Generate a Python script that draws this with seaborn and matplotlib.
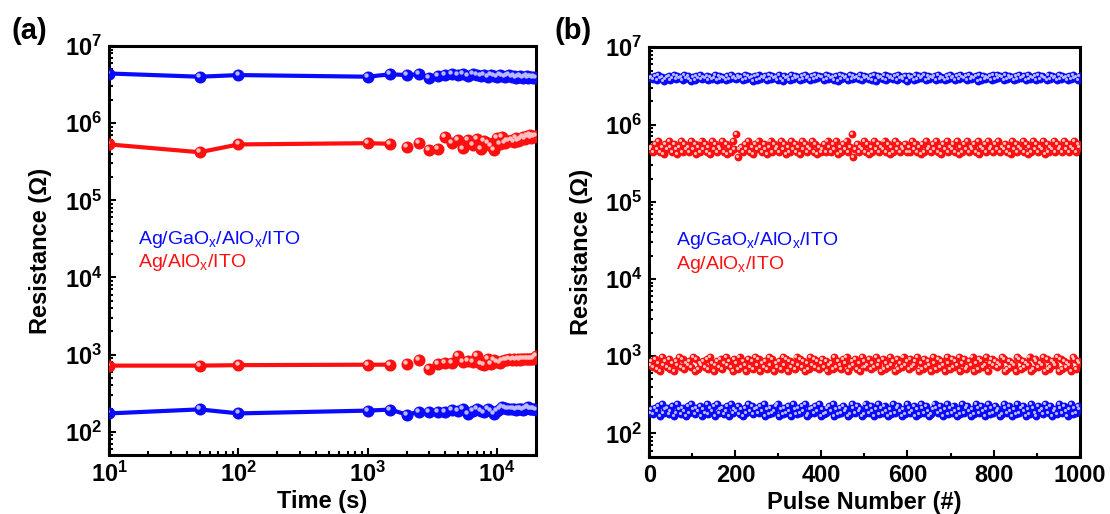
import numpy as np
import pandas as pd
import matplotlib
matplotlib.use("Agg")
import matplotlib.pyplot as plt
from matplotlib import ticker, transforms
import seaborn as sns

# ---------------- data: panel (a) retention ----------------
time_s = [10, 50, 100] + list(range(1000, 20001, 500))

blue_hrs_a = [4.4e6, 4.0e6, 4.2e6, 4.0e6, 4.3e6, 4.2e6, 4.3e6, 3.9e6, 4.1e6, 4.2e6,
              4.3e6, 4.2e6, 4.4e6, 4.1e6, 4.3e6, 4.2e6, 4.1e6, 4.2e6, 4.0e6, 4.2e6,
              4.1e6, 4.0e6, 4.2e6, 4.1e6, 4.0e6, 4.1e6, 4.2e6, 4.0e6, 4.1e6, 3.9e6,
              4.0e6, 4.1e6, 4.0e6, 3.9e6, 4.0e6, 4.1e6, 3.9e6, 4.0e6, 4.0e6, 3.9e6,
              4.0e6, 3.9e6]
red_hrs_a = [5.3e5, 4.2e5, 5.3e5,
             5.5e5, 5.4e5, 4.9e5, 5.6e5, 4.5e5, 4.6e5, 6.6e5, 5.5e5, 6.0e5, 4.7e5,
             6.1e5, 5.2e5, 6.2e5, 4.6e5, 5.8e5, 5.6e5, 5.1e5, 4.5e5, 6.4e5, 5.3e5,
             6.7e5, 5.6e5, 5.9e5, 5.8e5, 6.0e5, 5.7e5, 6.5e5, 5.9e5, 6.1e5, 6.2e5,
             6.6e5, 6.3e5, 6.8e5, 6.6e5, 7.0e5, 6.5e5, 6.9e5, 6.7e5, 6.9e5]
red_lrs_a = [720, 720, 730,
             740, 740, 760, 860, 650, 760, 770, 770, 960, 800, 820, 800, 950,
             760, 740, 880, 760, 850, 800, 780, 820, 860, 860, 870, 860, 870,
             860, 870, 860, 870, 870, 880, 880, 880, 880, 890, 880, 900, 950]
blue_lrs_a = [173, 195, 173,
              188, 194, 167, 181, 182, 181, 182, 194, 188, 197, 168, 188, 200,
              188, 178, 200, 188, 170, 185, 200, 210, 204, 195, 197, 195, 196,
              194, 195, 196, 195, 194, 196, 205, 208, 200, 198, 200, 196, 193]

# ---------------- data: panel (b) endurance ----------------
# each digit is a read-off level (0..9) inside the band [lo, hi] (log spaced)
blue_hrs_b_digits = ("4536274513 5624736452 7463152647 3546253472 6354263745"
                     "3645273645 1627354627 3645273164 5273645263 7452637465"
                     "5273645261 7364527364 5372645362 7164537264 5362745361"
                     "6452736457 2635462735 4263745263 7546273546 1726354627"
                     "3746527364 5263745627 3546273654 2736452736 4526374526")
red_hrs_b_digits = ("3425362415 3642531462 5342635142 6352416352 4362514263"
                    "9034253624 1536425314 6253426351 4263524163 5243625142"
                    "3526425361 4253624903 5243625142 6352436251 4263524352"
                    "4263524152 6342536241 5362435261 4253624352 6143526342"
                    "5362435241 6352436251 4263524361 5243625342 6352436254")
red_lrs_b_digits = ("4637251846 3725164837 2546381725 4637285146 3725846317"
                    "5283641736 2847153628 4715362847 1635284736 1528473625"
                    "7361452836 4275813647 2518634725 3846172538 4617253846"
                    "2734681527 3641852736 4185273648 1572364815 2763481574"
                    "6354871263 5418726354 8127635481 7236548172 6354187265")
blue_lrs_b_digits = ("3526471835 6247138526 4173852647 1538264718 3562471835"
                     "4725163847 2563748152 6347815263 7418526374 8125637481"
                     "5236748152 6374512863 7451286374 1582637415 2836741528"
                     "6347152863 7412586374 1582637415 2836741528 6374158263"
                     "7451286374 1528367415 2863174528 6371452863 7415826375")
band_blue_hrs_b = (3.6e6, 4.6e6)
band_red_hrs_b = (3.8e5, 7.6e5)
band_red_lrs_b = (600, 1050)
band_blue_lrs_b = (160, 250)

label_blue = r"Ag/GaO$_\mathregular{x}$/AlO$_\mathregular{x}$/ITO"
label_red = r"Ag/AlO$_\mathregular{x}$/ITO"

BLUE = "#0a0aff"
RED = "#ff1010"
BLUE_HI = "#b8b8ff"
RED_HI = "#ffc0c0"


def decode(digits, band):
    d = np.array([int(c) for c in digits if c.isdigit()], dtype=float)
    lo, hi = band
    return lo * (hi / lo) ** (d / 9.0)


# ---------------- style ----------------
sns.set_theme(style="white")
plt.rcParams["font.family"] = ["Liberation Sans", "DejaVu Sans"]
plt.rcParams["mathtext.fontset"] = "custom"
plt.rcParams["mathtext.rm"] = "Liberation Sans"
plt.rcParams["mathtext.bf"] = "Liberation Sans:bold"
plt.rcParams["mathtext.it"] = "Liberation Sans:italic"
for k in ("text.color", "axes.labelcolor", "xtick.color", "ytick.color", "axes.edgecolor"):
    plt.rcParams[k] = "black"

fig = plt.figure(figsize=(11.10, 5.14), dpi=100)
ax_a = fig.add_axes([0.0985, 0.1148, 0.3841, 0.7957])
ax_b = fig.add_axes([0.5850, 0.1115, 0.3876, 0.7965])


def spheres(ax, x, y, color, hi, s, hs, dx=-1.0, dy=1.0):
    df = pd.DataFrame({"x": x, "y": y})
    sns.scatterplot(data=df, x="x", y="y", ax=ax, s=s, color=color,
                    linewidth=0, zorder=3, legend=False)
    off = transforms.offset_copy(ax.transData, fig=fig, x=dx, y=dy, units="points")
    sns.scatterplot(data=df, x="x", y="y", ax=ax, s=hs, color=hi,
                    linewidth=0, zorder=4, legend=False, transform=off)


def line(ax, x, y, color, lw):
    df = pd.DataFrame({"x": x, "y": y})
    sns.lineplot(data=df, x="x", y="y", ax=ax, color=color, lw=lw,
                 estimator=None, sort=False, zorder=2, legend=False)


# ---- panel (a)
line(ax_a, time_s, blue_hrs_a, BLUE, 3.0)
line(ax_a, time_s, blue_lrs_a, BLUE, 3.0)
line(ax_a, time_s[:5], red_hrs_a[:5], RED, 3.0)
line(ax_a, time_s[:5], red_lrs_a[:5], RED, 3.0)
for ys, c, h in [(blue_hrs_a, BLUE, BLUE_HI), (blue_lrs_a, BLUE, BLUE_HI),
                 (red_hrs_a, RED, RED_HI), (red_lrs_a, RED, RED_HI)]:
    spheres(ax_a, time_s, ys, c, h, 75, 10, -1.4, 1.4)

ax_a.set_xscale("log")
ax_a.set_yscale("log")
ax_a.set_xlim(10, 2e4)
ax_a.set_ylim(50, 1e7)

# ---- panel (b)
for digits, band, c, h in [(blue_hrs_b_digits, band_blue_hrs_b, BLUE, BLUE_HI),
                           (red_hrs_b_digits, band_red_hrs_b, RED, RED_HI),
                           (red_lrs_b_digits, band_red_lrs_b, RED, RED_HI),
                           (blue_lrs_b_digits, band_blue_lrs_b, BLUE, BLUE_HI)]:
    vals = decode(digits, band)
    pulses = np.linspace(1, 1000, len(vals))
    spheres(ax_b, pulses, vals, c, h, 32, 5, -0.8, 0.8)

ax_b.set_yscale("log")
ax_b.set_xlim(0, 1000)
ax_b.set_ylim(50, 1e7)
ax_b.xaxis.set_major_locator(ticker.MultipleLocator(200))
ax_b.xaxis.set_minor_locator(ticker.MultipleLocator(100))

# ---- common axis styling
def logfmt(v, pos):
    e = int(round(np.log10(v)))
    return r"$\mathbf{10^{%d}}$" % e

for ax in (ax_a, ax_b):
    for sp in ax.spines.values():
        sp.set_visible(True)
        sp.set_linewidth(2.2)
        sp.set_color("black")
    ax.tick_params(which="both", direction="in", top=False, right=False,
                   left=True, bottom=True, colors="black", width=1.5)
    ax.tick_params(which="major", length=5, labelsize=17, pad=5)
    ax.tick_params(which="minor", length=3)
    ax.yaxis.set_major_locator(ticker.LogLocator(base=10, numticks=12))
    ax.yaxis.set_minor_locator(ticker.LogLocator(base=10, subs=np.arange(2, 10), numticks=12))
    ax.yaxis.set_minor_formatter(ticker.NullFormatter())
    ax.yaxis.set_major_formatter(ticker.FuncFormatter(logfmt))
    ax.set_ylabel("Resistance (\u03a9)", fontsize=17, fontweight="bold", color="black")
    for lab in ax.get_xticklabels() + ax.get_yticklabels():
        lab.set_fontweight("bold")

ax_a.xaxis.set_major_locator(ticker.LogLocator(base=10, numticks=12))
ax_a.xaxis.set_minor_locator(ticker.LogLocator(base=10, subs=np.arange(2, 10), numticks=12))
ax_a.xaxis.set_minor_formatter(ticker.NullFormatter())
ax_a.xaxis.set_major_formatter(ticker.FuncFormatter(logfmt))
ax_b.xaxis.set_major_formatter(ticker.FuncFormatter(lambda v, p: "%d" % v))
for lab in ax_b.get_xticklabels():
    lab.set_fontweight("bold")

ax_a.set_xlabel("Time (s)", fontsize=17, fontweight="bold", color="black")
ax_b.set_xlabel("Pulse Number (#)", fontsize=17, fontweight="bold", color="black")
ax_a.xaxis.set_label_coords(0.5, -0.085)
ax_b.xaxis.set_label_coords(0.5, -0.085)
ax_a.yaxis.set_label_coords(-0.135, 0.5)
ax_b.yaxis.set_label_coords(-0.13, 0.5)

# ---- in-plot labels
for ax, x0 in ((ax_a, 0.068), (ax_b, 0.062)):
    ax.text(x0, 0.527, label_blue, color=BLUE, fontsize=14, transform=ax.transAxes, va="center")
    ax.text(x0, 0.470, label_red, color=RED, fontsize=14, transform=ax.transAxes, va="center")

fig.text(0.010, 0.940, "(a)", fontsize=21, fontweight="bold", va="center", color="black")
fig.text(0.500, 0.940, "(b)", fontsize=21, fontweight="bold", va="center", color="black")

fig.savefig("out.png", dpi=100)
